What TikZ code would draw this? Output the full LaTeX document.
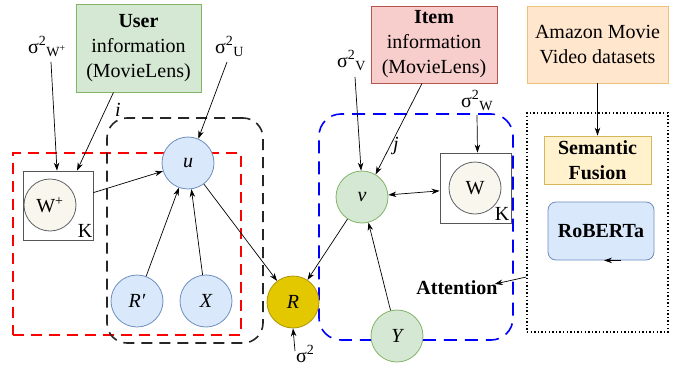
\documentclass[tikz,border=0pt]{standalone}
\usepackage{fontspec}
\setmainfont{Liberation Serif}
\usetikzlibrary{arrows.meta,calc}
\definecolor{bluef}{HTML}{DAE8FC}\definecolor{bluel}{HTML}{6C8EBF}
\definecolor{greenf}{HTML}{D5E8D4}\definecolor{greenl}{HTML}{82B366}
\definecolor{redf}{HTML}{F8CECC}\definecolor{redl}{HTML}{B85450}
\definecolor{orf}{HTML}{FFE6CC}\definecolor{orl}{HTML}{EBC27A}
\definecolor{yelf}{HTML}{FFF2CC}\definecolor{yell}{HTML}{D6B656}
\definecolor{crf}{HTML}{F9F7ED}\definecolor{crl}{HTML}{36393D}
\definecolor{goldf}{HTML}{E3C800}\definecolor{goldl}{HTML}{B09500}
\begin{document}
\begin{tikzpicture}[x=1pt,y=-1pt,font=\fontsize{20}{25}\selectfont,
  arr/.style={draw=black,line width=0.7pt,-{Stealth[length=8pt,width=5.5pt]}},
  darr/.style={draw=black,line width=0.7pt,{Stealth[length=8pt,width=5.5pt]}-{Stealth[length=8pt,width=5.5pt]}},
  var/.style={circle,minimum size=52pt,inner sep=0pt,line width=0.8pt},
  uvar/.style={var,fill=bluef,draw=bluel,font=\fontsize{20}{25}\selectfont\itshape},
  ivar/.style={var,fill=greenf,draw=greenl,font=\fontsize{20}{25}\selectfont\itshape},
  wvar/.style={var,fill=crf,draw=crl!80},
  rvar/.style={var,fill=goldf,draw=goldl,font=\fontsize{20}{25}\selectfont\itshape},
  infobox/.style={rectangle,inner sep=0pt,align=center,line width=0.8pt},
  plate/.style={rectangle,draw=crl!85,fill=white,line width=0.8pt,inner sep=0pt},
  dashbox/.style={rectangle,inner sep=0pt,line width=1.6pt,dash pattern=on 11pt off 7pt},
  lbl/.style={inner sep=0pt,anchor=base west}]
\useasboundingbox (0,0) rectangle (680,367);
% dashed regions
\node[dashbox,draw=red,minimum width=228pt,minimum height=182pt] (redbox) at (127,244) {};
\node[dashbox,draw=black!85,minimum width=156pt,minimum height=225pt,rounded corners=20pt] (blackbox) at (185,230.5) {};
\node[dashbox,draw=blue,minimum width=194pt,minimum height=226pt,rounded corners=22pt,dash pattern=on 13pt off 8pt] (bluebox) at (416,227) {};
\node[rectangle,draw=black,line width=1.4pt,dash pattern=on 1.4pt off 2.2pt,minimum width=141pt,minimum height=219pt,inner sep=0pt] (fbox) at (597.5,222.5) {};
% info boxes
\node[infobox,fill=greenf,draw=greenl,minimum width=125pt,minimum height=88pt] (user) at (138.5,48) {\textbf{User}\\information\\(MovieLens)};
\node[infobox,fill=redf,draw=redl,minimum width=126pt,minimum height=77pt] (item) at (434,44.5) {\textbf{Item}\\information\\(MovieLens)};
\node[infobox,fill=orf,draw=orl,minimum width=141pt,minimum height=77pt] (amazon) at (597.5,44.5) {Amazon Movie\\Video datasets};
\node[infobox,fill=yelf,draw=yell,minimum width=107pt,minimum height=48pt,font=\fontsize{20}{25}\selectfont\bfseries] (sem) at (597.5,160) {Semantic\\Fusion};
\node[infobox,fill=bluef,draw=bluel,minimum width=106pt,minimum height=58pt,rounded corners=8pt,font=\fontsize{20}{25}\selectfont\bfseries] (rob) at (601,231) {RoBERTa};
% plates
\node[plate,minimum width=70pt,minimum height=69pt] (Wpbox) at (58,205.5) {};
\node[plate,minimum width=71pt,minimum height=70pt] (Wbox) at (475.5,188) {};
\node[inner sep=0pt] (Kp) at (85,231) {K};
\node[inner sep=0pt] (Kw) at (502,214) {K};
% variables
\node[wvar] (Wp) at (50,205) {W\textsuperscript{+}};
\node[wvar] (W) at (475,188) {W};
\node[uvar] (u) at (188,163) {u};
\node[uvar] (Rp) at (137,301) {R′};
\node[uvar] (X) at (206,301) {X};
\node[rvar] (R) at (293,302) {R};
\node[ivar] (v) at (362,197) {v};
\node[ivar] (Y) at (397,336) {Y};
% labels
\node[lbl] (sWp) at (28,53) {σ\textsuperscript{2}\textsubscript{W\textsuperscript{+}}};
\node[lbl] (sU) at (215,53) {σ\textsuperscript{2}\textsubscript{U}};
\node[lbl] (sV) at (337,67) {σ\textsuperscript{2}\textsubscript{V}};
\node[lbl] (sW) at (461,107) {σ\textsuperscript{2}\textsubscript{W}};
\node[lbl] (sR) at (296,362) {σ\textsuperscript{2}};
\node[inner sep=0pt,font=\fontsize{20}{25}\selectfont\itshape] (ilbl) at (118,110) {i};
\node[inner sep=0pt,font=\fontsize{20}{25}\selectfont\itshape] (jlbl) at (396,146) {j};
\node[inner sep=0pt,font=\fontsize{20}{25}\selectfont\bfseries] (att) at (457,288) {Attention};
% connectors
\draw[arr] ($(sWp.base west)+(23,9)$) -- ($(Wpbox.north)+(-1,0)$);
\draw[arr] ($(user.south)+(-25,0)$) -- ($(Wpbox.north)+(19,0)$);
\draw[arr] ($(sU.base west)+(12,9)$) -- (u.67);
\draw[arr] (Wpbox.20) -- (u.198);
\draw[arr] (Rp) -- (u);
\draw[arr] (X) -- (u);
\draw[arr] (u) -- (R);
\draw[arr] (v) -- (R);
\draw[arr] (Y) -- (v);
\draw[darr] (v) -- (Wbox);
\draw[arr] ($(sV.base west)+(18,10)$) -- (v.92);
\draw[arr] ($(item.south)+(-12,0)$) -- (v.59);
\draw[arr] ($(sW.base west)+(16,8)$) -- ($(Wbox.north)+(2,0)$);
\draw[arr] ($(sR.base west)+(-1,-11)$) -- (R.south);
\draw[arr] (amazon.south) -- (sem.north);
\draw[arr] ($(fbox.west)+(0,54.5)$) -- ($(att.east)+(-3,-4)$);
\draw[arr] ($(rob.south)+(20,0)$) -- ($(rob.south)+(3,0)$);
\end{tikzpicture}
\end{document}
